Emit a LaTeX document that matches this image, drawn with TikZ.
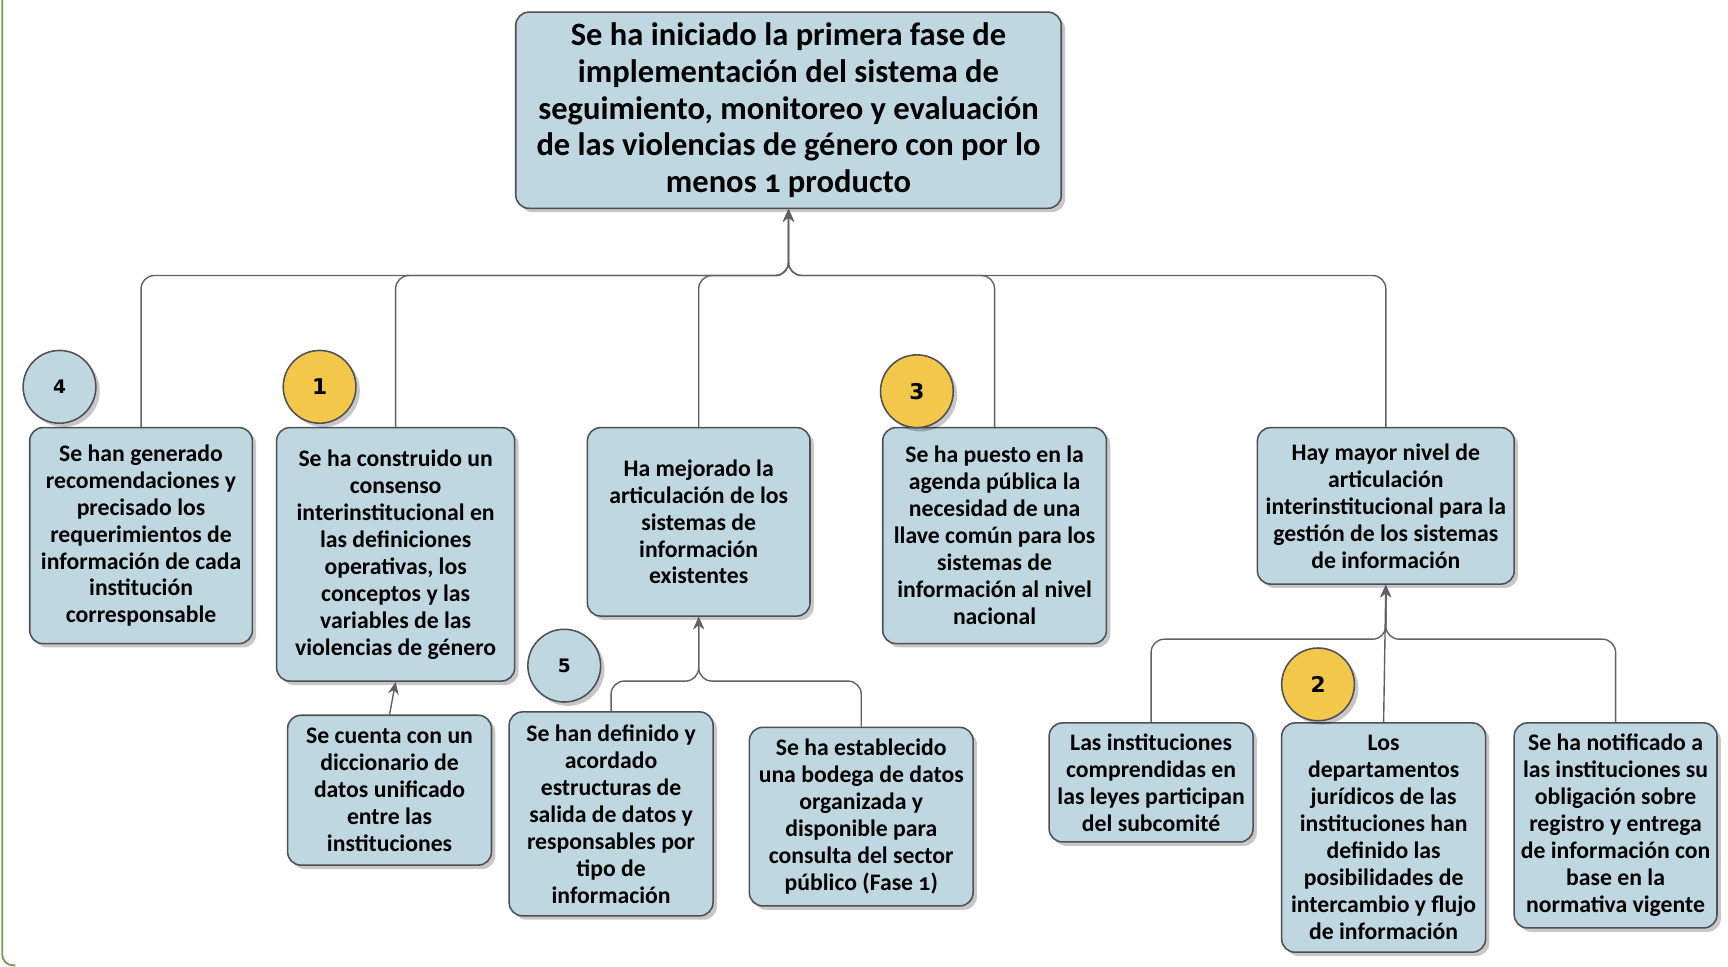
\documentclass[tikz,border=0pt]{standalone}
\usepackage{fontspec}
\setmainfont{Carlito}[Numbers=OldStyle]
\newfontfamily\numfont{DejaVu Sans}
\usepackage{tikz}
\usetikzlibrary{shadows,arrows.meta}

\definecolor{boxblue}{RGB}{191,215,224}
\definecolor{boxline}{RGB}{80,80,84}
\definecolor{goldfill}{RGB}{242,199,74}
\definecolor{linkgray}{RGB}{96,96,102}
\definecolor{framegreen}{RGB}{122,154,90}

\tikzset{
  box/.style={draw=boxline, line width=1pt, fill=boxblue, rounded corners=0.3cm,
    align=center, inner sep=2pt, font=\bfseries\fontsize{15.3}{17.4}\selectfont,
    drop shadow={shadow xshift=2.5pt, shadow yshift=-2.5pt, fill=black, opacity=0.22}},
  goalbox/.style={box, font=\bfseries\fontsize{21}{23.8}\selectfont},
  sz/.style 2 args={minimum width=#1*0.025cm, minimum height=#2*0.025cm},
  badge/.style={circle, draw=boxline, line width=1pt, minimum size=1.65cm, inner sep=0pt,
    drop shadow={shadow xshift=2.5pt, shadow yshift=-2.5pt, fill=black, opacity=0.22}},
  gold/.style={badge, fill=goldfill, font=\numfont\bfseries\fontsize{14}{16}\selectfont},
  pale/.style={badge, fill=boxblue, font=\numfont\bfseries\fontsize{12}{14}\selectfont},
  link/.style={draw=linkgray, line width=0.9pt, rounded corners=0.3cm,
    -{Stealth[length=8pt,width=7pt]}},
}

\begin{document}
\begin{tikzpicture}[x=0.025cm, y=-0.025cm]
\useasboundingbox (0,0) rectangle (1568,877);

% frame
\draw[framegreen, line width=1.2pt, rounded corners=0.25cm] (2,0) -- (2,876) -- (14,876);

% goal
\node[goalbox, sz={495}{178}] (goal) at (715.5,100) {Se ha iniciado la primera fase de\\implementación del sistema de\\seguimiento, monitoreo y evaluación\\de las violencias de género con por lo\\menos 1 producto};

% first level
\node[box, sz={202}{196}] (rec) at (128,486) {Se han generado\\recomendaciones y\\precisado los\\requerimientos de\\información de cada\\institución\\corresponsable};
\node[box, sz={216}{230}] (cons) at (359,503) {Se ha construido un\\consenso\\interinstitucional en\\las definiciones\\operativas, los\\conceptos y las\\variables de las\\violencias de género};
\node[box, sz={202}{171}] (art) at (634,473.5) {Ha mejorado la\\articulación de los\\sistemas de\\información\\existentes};
\node[box, sz={203}{196}] (llave) at (902.5,486) {Se ha puesto en la\\agenda pública la\\necesidad de una\\llave común para los\\sistemas de\\información al nivel\\nacional};
\node[box, sz={233}{142}] (gest) at (1257.5,459) {Hay mayor nivel de\\articulación\\interinstitucional para la\\gestión de los sistemas\\de información};

% second level
\node[box, sz={185}{136}] (dicc) at (353.5,717) {Se cuenta con un\\diccionario de\\datos unificado\\entre las\\instituciones};
\node[box, sz={185}{185}] (defi) at (554.5,738.5) {Se han definido y\\acordado\\estructuras de\\salida de datos y\\responsables por\\tipo de\\información};
\node[box, sz={203}{162}] (bodega) at (781.5,741) {Se ha establecido\\una bodega de datos\\organizada y\\disponible para\\consulta del sector\\público (Fase 1)};
\node[box, sz={185}{108}] (inst) at (1044.5,710) {Las instituciones\\comprendidas en\\las leyes participan\\del subcomité};
\node[box, sz={185}{208}] (dept) at (1255.5,760) {Los\\departamentos\\jurídicos de las\\instituciones han\\definido las\\posibilidades de\\intercambio y flujo\\de información};
\node[box, sz={184}{186}] (notif) at (1466,749) {Se ha notificado a\\las instituciones su\\obligación sobre\\registro y entrega\\de información con\\base en la\\normativa vigente};

% numbers
\node[pale] (n4) at (54,351) {4};
\node[gold] (n1) at (290,351) {1};
\node[gold] (n3) at (832,355) {3};
\node[pale] (n5) at (512,604) {5};
\node[gold] (n2) at (1196,621) {2};

% connectors
\coordinate (hub) at (goal.south |- 0,250);
\foreach \n in {rec,cons,art,llave,gest}
  \draw[link] (\n.north) |- (hub) -- (goal.south);

\coordinate (hubA) at (art.south |- 0,618);
\draw[link] (defi.north) |- (hubA) -- (art.south);
\draw[link] (bodega.north) |- (hubA) -- (art.south);

\coordinate (hubB) at (gest.south |- 0,580);
\draw[link] (inst.north) |- (hubB) -- (gest.south);
\draw[link] (notif.north) |- (hubB) -- (gest.south);
\draw[link] (dept.north) -- (gest.south);

\draw[link] (dicc.north) -- (cons.south);

\end{tikzpicture}
\end{document}
